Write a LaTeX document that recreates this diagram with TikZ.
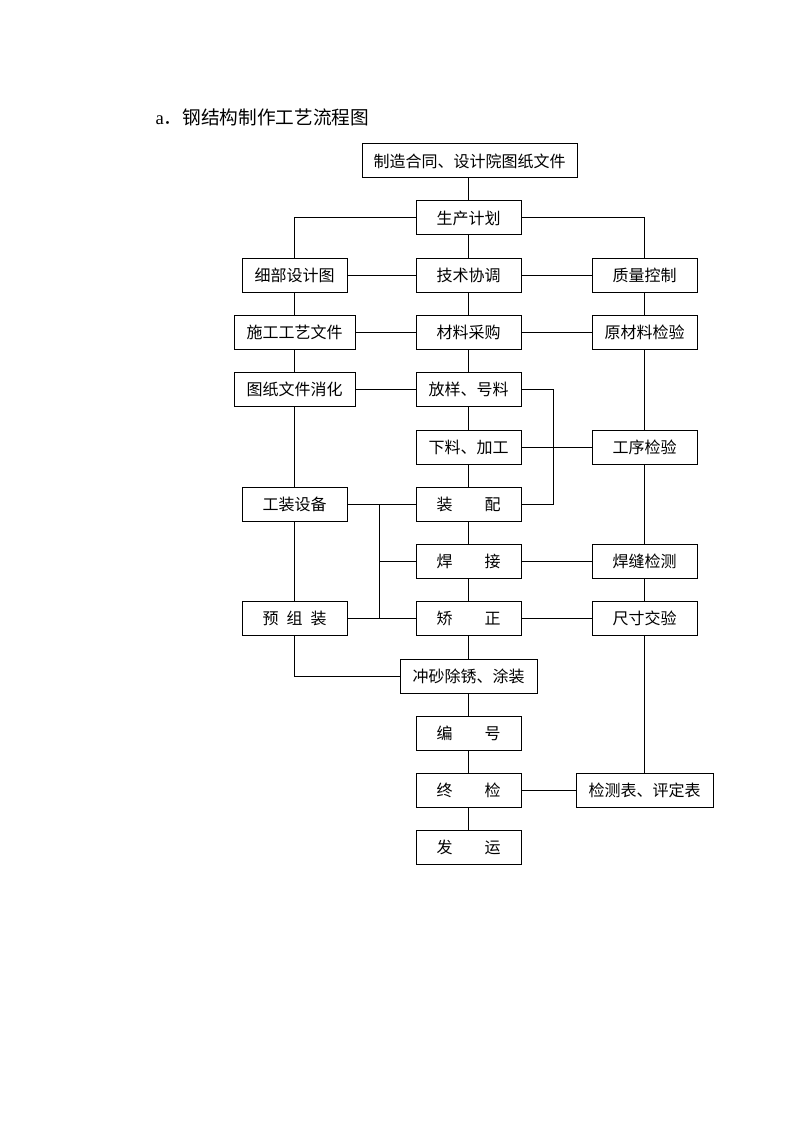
\documentclass[tikz,border=0pt]{standalone}
\usepackage{fontspec}
\setmainfont{Liberation Serif}
\newfontfamily\cjk{Noto Sans CJK SC}
\begin{document}
\begin{tikzpicture}[x=0.75pt,y=-0.75pt,
  line width=0.75pt,
  box/.style={draw, line width=0.75pt, minimum height=25.5pt, inner sep=0pt,
    font=\cjk\fontsize{12pt}{12pt}\selectfont},
  w1/.style={box, minimum width=78.75pt},
  w2/.style={box, minimum width=90.75pt},
  w3/.style={box, minimum width=102.75pt},
  w4/.style={box, minimum width=161.25pt}]
\useasboundingbox (0,0) rectangle (794,1123);
\node[anchor=west, inner sep=0pt] (title) at (155,117)
  {\fontsize{14pt}{15pt}\selectfont a\cjk．钢结构制作工艺流程图};
\node[w4] (contract) at (469.5,161) {制造合同、设计院图纸文件};
\node[w1] (plan) at (468.5,218) {生产计划};
\node[w1] (detail) at (294.5,275.5) {细部设计图};
\node[w1] (tech) at (468.5,275.5) {技术协调};
\node[w1] (qc) at (644.5,275.5) {质量控制};
\node[w2] (craft) at (294.5,332.5) {施工工艺文件};
\node[w1] (mat) at (468.5,332.5) {材料采购};
\node[w1] (rawchk) at (644.5,332.5) {原材料检验};
\node[w2] (digest) at (294.5,389.5) {图纸文件消化};
\node[w1] (layout) at (468.5,389.5) {放样、号料};
\node[w1] (cut) at (468.5,447) {下料、加工};
\node[w1] (procchk) at (644.5,447) {工序检验};
\node[w1] (tooling) at (294.5,504) {工装设备};
\node[w1] (assy) at (468.5,504) {装\hspace{2em}配};
\node[w1] (weld) at (468.5,561) {焊\hspace{2em}接};
\node[w1] (weldchk) at (644.5,561) {焊缝检测};
\node[w1] (preasm) at (294.5,618) {预\hspace{0.5em}组\hspace{0.5em}装};
\node[w1] (straight) at (468.5,618) {矫\hspace{2em}正};
\node[w1] (dimchk) at (644.5,618) {尺寸交验};
\node[w3] (blast) at (468.5,676) {冲砂除锈、涂装};
\node[w1] (number) at (468.5,733) {编\hspace{2em}号};
\node[w1] (final) at (468.5,790.5) {终\hspace{2em}检};
\node[w3] (report) at (644.5,790.5) {检测表、评定表};
\node[w1] (ship) at (468.5,847.5) {发\hspace{2em}运};
\coordinate (bx) at (553,0);
\coordinate (lx) at (379,0);
% spine
\draw (plan.north |- contract.south) -- (plan.north);
\draw (plan) -- (tech);
\draw (tech) -- (mat);
\draw (mat) -- (layout);
\draw (layout) -- (cut);
\draw (cut) -- (assy);
\draw (assy) -- (weld);
\draw (weld) -- (straight);
\draw (straight.south) -- (straight.south |- blast.north);
\draw (blast.south -| number.north) -- (number.north);
\draw (number) -- (final);
\draw (final) -- (ship);
% left column
\draw (plan.west) -| (detail.north);
\draw (detail) -- (craft);
\draw (craft) -- (digest);
\draw (digest) -- (tooling);
\draw (tooling) -- (preasm);
\draw (preasm.south) |- (blast.west);
% right column
\draw (plan.east) -| (qc.north);
\draw (qc) -- (rawchk);
\draw (rawchk) -- (procchk);
\draw (procchk) -- (weldchk);
\draw (weldchk) -- (dimchk);
\draw (dimchk) -- (report);
% horizontals
\draw (detail) -- (tech);
\draw (tech) -- (qc);
\draw (craft) -- (mat);
\draw (mat) -- (rawchk);
\draw (digest) -- (layout);
\draw (layout.east) -- (layout.east -| bx) |- (assy.east);
\draw (cut) -- (procchk);
\draw (tooling) -- (assy);
\draw (tooling.east -| lx) -- (preasm.east -| lx);
\draw (weld.west) -- (weld.west -| lx);
\draw (preasm) -- (straight);
\draw (weld) -- (weldchk);
\draw (straight) -- (dimchk);
\draw (final) -- (report);
\end{tikzpicture}
\end{document}
